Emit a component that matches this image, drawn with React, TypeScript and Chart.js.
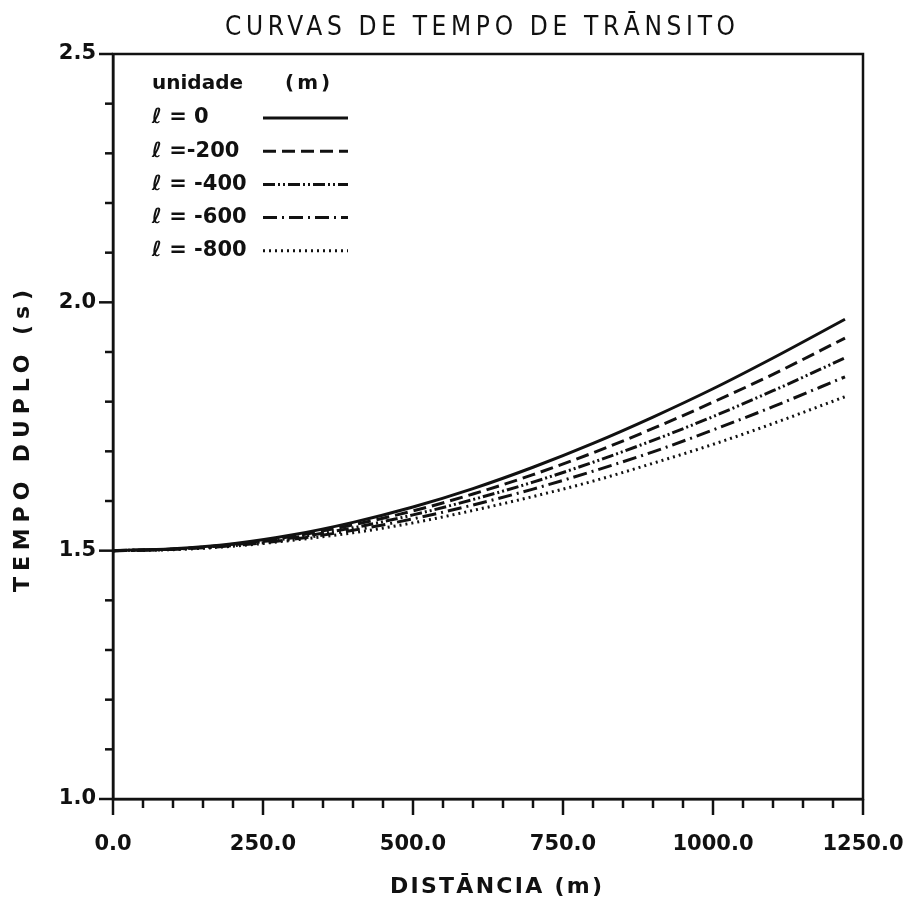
import React, { useEffect, useRef } from 'react';
import { Chart, registerables } from 'chart.js';

Chart.register(...registerables);

// ---- data ----
const distances = [0, 100, 200, 300, 400, 500, 600, 700, 800, 900, 1000, 1100, 1220];
const tL0 = [1.5, 1.504, 1.514, 1.532, 1.557, 1.588, 1.625, 1.668, 1.716, 1.769, 1.826, 1.888, 1.966];
const tL200 = [1.5, 1.503, 1.513, 1.529, 1.552, 1.58, 1.614, 1.653, 1.697, 1.746, 1.799, 1.855, 1.928];
const tL400 = [1.5, 1.503, 1.512, 1.526, 1.546, 1.572, 1.603, 1.638, 1.678, 1.722, 1.77, 1.822, 1.888];
const tL600 = [1.5, 1.503, 1.51, 1.523, 1.541, 1.564, 1.592, 1.624, 1.66, 1.699, 1.743, 1.79, 1.85];
const tL800 = [1.5, 1.502, 1.509, 1.521, 1.536, 1.556, 1.581, 1.609, 1.64, 1.676, 1.714, 1.756, 1.81];

const seriesLabels = ['ℓ = 0', 'ℓ =-200', 'ℓ = -400', 'ℓ = -600', 'ℓ = -800'];
const seriesDashes: number[][] = [[], [13, 6], [12, 3, 2, 3, 2, 3], [14, 5, 2, 5], [2, 4]];
const legendHeader = ['unidade', '(m)'];

const xTickLabels = ['0.0', '250.0', '500.0', '750.0', '1000.0', '1250.0'];
const yTickLabels = ['1.0', '1.5', '2.0', '2.5'];

const chartTitle = 'CURVAS DE TEMPO DE TRĀNSITO';
const xTitle = 'DISTĀNCIA (m)';
const yTitle = 'TEMPO DUPLO (s)';

const INK = '#111';

function fitText(ctx: any, text: string, cx: number, cy: number, width: number) {
  ctx.letterSpacing = '0px';
  const w0 = ctx.measureText(text).width;
  const n = Array.from(text).length;
  const sp = Math.max(0, (width - w0) / (n - 1));
  ctx.letterSpacing = sp + 'px';
  ctx.textAlign = 'left';
  ctx.fillText(text, cx - width / 2, cy);
  ctx.letterSpacing = '0px';
}

const decorPlugin = {
  id: 'decor',
  afterDraw(chart: any) {
    const { ctx, chartArea: a, scales } = chart;
    const xs = scales.x;
    const ys = scales.y;
    ctx.save();
    ctx.strokeStyle = INK;
    ctx.lineWidth = 2.5;
    ctx.setLineDash([]);
    ctx.strokeRect(a.left, a.top, a.right - a.left, a.bottom - a.top);

    // ticks
    for (let v = 0; v <= 1250; v += 50) {
      const px = xs.getPixelForValue(v);
      const len = v % 250 === 0 ? 16 : 9;
      ctx.beginPath();
      ctx.moveTo(px, a.bottom);
      ctx.lineTo(px, a.bottom + len);
      ctx.stroke();
    }
    for (let i = 10; i <= 25; i++) {
      const py = ys.getPixelForValue(i / 10);
      const len = i % 5 === 0 ? 14 : 8;
      ctx.beginPath();
      ctx.moveTo(a.left - len, py);
      ctx.lineTo(a.left, py);
      ctx.stroke();
    }

    // titles
    ctx.fillStyle = INK;
    ctx.textBaseline = 'middle';
    ctx.font = '26px "DejaVu Sans Condensed", "DejaVu Sans", sans-serif';
    fitText(ctx, chartTitle, 480, 28, 510);

    ctx.font = 'bold 22px "DejaVu Sans", sans-serif';
    fitText(ctx, xTitle, 496, 887, 212);

    ctx.save();
    ctx.translate(23, 441);
    ctx.rotate(-Math.PI / 2);
    ctx.font = 'bold 22px "DejaVu Sans", sans-serif';
    fitText(ctx, yTitle, 0, 0, 302);
    ctx.restore();

    // legend
    ctx.textAlign = 'left';
    ctx.font = 'bold 20px "DejaVu Sans", sans-serif';
    ctx.fillText(legendHeader[0], a.left + 39, 84);
    (ctx as any).letterSpacing = '3px';
    ctx.fillText(legendHeader[1], a.left + 172, 84);
    (ctx as any).letterSpacing = '0px';
    chart.data.datasets.forEach((ds: any, i: number) => {
      const y = 118 + i * 33.2;
      ctx.fillStyle = INK;
      ctx.font = 'bold 21px "DejaVu Sans", sans-serif';
      ctx.fillText(seriesLabels[i], a.left + 39, y);
      ctx.beginPath();
      ctx.lineWidth = 3;
      ctx.setLineDash(seriesDashes[i]);
      ctx.moveTo(a.left + 150, y);
      ctx.lineTo(a.left + 235, y);
      ctx.stroke();
    });
    ctx.restore();
  },
};

export default function App() {
  const ref = useRef<HTMLCanvasElement | null>(null);

  useEffect(() => {
    if (!ref.current) return;
    const series = [tL0, tL200, tL400, tL600, tL800];
    const chart = new Chart(ref.current, {
      type: 'line',
      data: {
        datasets: series.map((vals, i) => ({
          label: seriesLabels[i],
          data: distances.map((d, j) => ({ x: d, y: vals[j] })),
          borderColor: INK,
          borderWidth: 3,
          borderDash: seriesDashes[i],
          pointRadius: 0,
          fill: false,
          cubicInterpolationMode: 'monotone' as const,
        })),
      },
      options: {
        responsive: false,
        animation: false,
        devicePixelRatio: 1,
        layout: { padding: { top: 54, right: 50, left: 0, bottom: 0 } },
        plugins: {
          legend: { display: false },
          title: { display: false },
          tooltip: { enabled: false },
        },
        scales: {
          x: {
            type: 'linear',
            min: 0,
            max: 1250,
            grid: { display: false, drawTicks: false },
            border: { display: true, color: INK, width: 2.5 },
            ticks: {
              stepSize: 50,
              autoSkip: false,
              maxRotation: 0,
              padding: 33,
              color: INK,
              font: { family: '"DejaVu Sans", sans-serif', size: 21, weight: 'bold' },
              callback: (v: any) => (Number(v) % 250 === 0 ? xTickLabels[Number(v) / 250] : ''),
            },
            afterFit: (s: any) => {
              s.height = 101;
              s.paddingLeft = 0;
              s.paddingRight = 0;
            },
          },
          y: {
            type: 'linear',
            min: 1.0,
            max: 2.5,
            grid: { display: false, drawTicks: false },
            border: { display: true, color: INK, width: 2.5 },
            ticks: {
              stepSize: 0.1,
              autoSkip: false,
              padding: 17,
              color: INK,
              font: { family: '"DejaVu Sans", sans-serif', size: 21, weight: 'bold' },
              callback: (v: any) => {
                const n = Number(v) * 2;
                if (Math.abs(n - Math.round(n)) < 1e-6) {
                  return yTickLabels[Math.round(n) - 2];
                }
                return '';
              },
            },
            afterFit: (s: any) => {
              s.width = 113;
              s.paddingTop = 0;
              s.paddingBottom = 0;
            },
          },
        },
      },
      plugins: [decorPlugin],
    });
    return () => chart.destroy();
  }, []);

  return (
    <div style={{ position: 'absolute', left: 0, top: 0, width: 913, height: 900, background: '#fff' }}>
      <canvas ref={ref} width={913} height={900} style={{ width: 913, height: 900 }} />
    </div>
  );
}
